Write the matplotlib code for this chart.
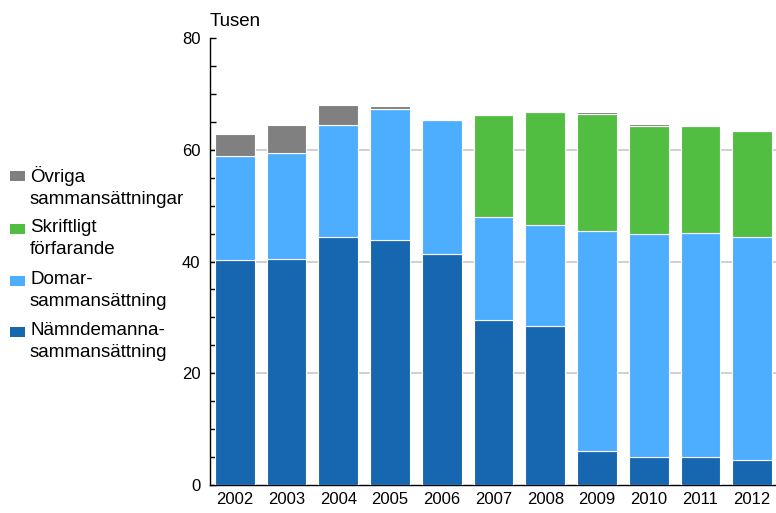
import matplotlib
matplotlib.use("Agg")
import matplotlib.pyplot as plt
from matplotlib.patches import Rectangle
import numpy as np

years = ["2002", "2003", "2004", "2005", "2006", "2007", "2008", "2009", "2010", "2011", "2012"]
namnd = [40.2, 40.4, 44.3, 43.8, 41.3, 29.5, 28.4, 6.1, 5.0, 5.0, 4.5]
domar = [18.7, 19.1, 20.1, 23.5, 24.1, 18.5, 18.2, 39.3, 39.9, 40.1, 39.8]
skrift = [0, 0, 0, 0, 0, 18.3, 20.2, 21.0, 19.4, 19.2, 19.1]
ovriga = [4.0, 4.9, 3.6, 0.5, 0, 0, 0, 0.3, 0.3, 0, 0]

labels = ["Nämndemanna-\nsammansättning", "Domar-\nsammansättning",
          "Skriftligt\nförfarande", "Övriga\nsammansättningar"]
colors = ["#1767B0", "#4DADFF", "#52BE41", "#808080"]

plt.rcParams['font.family'] = ['Liberation Sans', 'DejaVu Sans']

W, H = 776, 513
fig = plt.figure(figsize=(W/100, H/100), dpi=100)
ax = fig.add_axes([210/W, 1-485/H, 566/W, (485-38)/H])

x = np.arange(len(years))
bottom = np.zeros(len(years))
series = [namnd, domar, skrift, ovriga]
for vals, c, lab in zip(series, colors, labels):
    vals = np.array(vals)
    ax.bar(x, vals, bottom=bottom, width=0.77, color=c, edgecolor="white", linewidth=0.8, zorder=3)
    bottom += vals

ax.set_xlim(-0.48, 10.46)
ax.set_ylim(0, 80)
ax.set_yticks([0, 20, 40, 60, 80])
ax.set_yticks(np.arange(0, 81, 5), minor=True)
ax.set_xticks(x)
ax.set_xticklabels(years, fontsize=12)
ax.tick_params(axis='y', which='both', direction='in', length=4, width=1, labelsize=12, pad=7)
ax.tick_params(axis='x', length=0, pad=5)
for yv in [20, 40, 60]:
    ax.axhline(yv, color="#c8c8c8", linewidth=1.2, zorder=1)
for s in ["top", "right"]:
    ax.spines[s].set_visible(False)
ax.spines["left"].set_linewidth(1)
ax.spines["bottom"].set_linewidth(1)

fig.text(210/W, 1-21/H, "Tusen", fontsize=13.5, ha='left', va='center')

# legend, drawn manually (top to bottom: Övriga, Skriftligt, Domar, Nämnd)
first_line_y = [176, 229, 281, 332]
for yy, c, lab in zip(first_line_y, colors[::-1], labels[::-1]):
    fig.add_artist(Rectangle((10/W, 1-(yy+5)/H), 15/W, 10/H, transform=fig.transFigure,
                             facecolor=c, edgecolor='none'))
    fig.text(30/W, 1-(yy-10)/H, lab, fontsize=13.5, ha='left', va='top', linespacing=1.4)

fig.savefig("out.png", dpi=100)
